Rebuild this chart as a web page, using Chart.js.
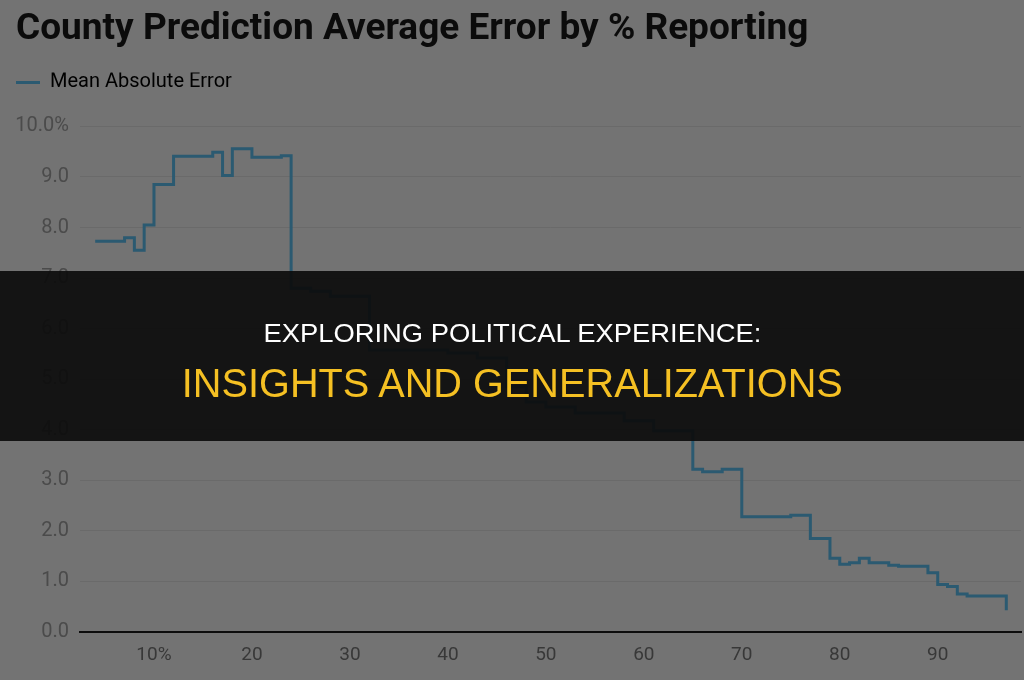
<!DOCTYPE html>
<html>
<head>
<meta charset="utf-8">
<script src="https://cdn.jsdelivr.net/npm/chart.js@4.4.1/dist/chart.umd.min.js"></script>
<style>
    html, body { margin: 0; padding: 0; background: #737373; }
    #wrap { position: relative; width: 1024px; height: 680px; overflow: hidden; }
    #band {
        position: absolute; left: 0; top: 271px; width: 1024px; height: 170px;
        background: rgba(12, 12, 12, 0.92);
        font-family: "Liberation Sans", Arial, sans-serif;
    }
    #band .line1, #band .line2 {
        position: absolute; left: 0; width: 1024px; text-align: center; white-space: nowrap;
    }
    #band span { display: inline-block; transform-origin: center; }
    #band .line1 { top: 48px; color: #ffffff; font-size: 25px; }
    #band .line2 { top: 89px; color: #f5c023; font-size: 41px; }
</style>
</head>
<body>
<div id="wrap">
    <canvas id="chart" width="1024" height="680"></canvas>
    <div id="band">
        <div class="line1"><span data-w="498">EXPLORING POLITICAL EXPERIENCE:</span></div>
        <div class="line2"><span data-w="661">INSIGHTS AND GENERALIZATIONS</span></div>
    </div>
</div>
<script>
// % reporting where each step starts, and the error held from there
const pctReporting = [4, 7, 8, 9, 10, 12, 16, 17, 18, 20, 23, 24, 26, 28, 32, 40, 43, 46, 48, 50,
    53, 58, 61, 65, 66, 68, 70, 75, 77, 79, 80, 81, 82, 83, 85, 86, 89, 90, 91, 92, 93, 97];
const meanAbsError = [7.73, 7.80, 7.55, 8.05, 8.85, 9.41, 9.49, 9.03, 9.56, 9.39, 9.42, 6.80, 6.74, 6.64,
    5.58, 5.52, 5.42, 4.85, 4.55, 4.45, 4.33, 4.18, 3.98, 3.22, 3.17, 3.22, 2.28, 2.31, 1.85, 1.46,
    1.34, 1.37, 1.46, 1.37, 1.32, 1.30, 1.17, 0.94, 0.90, 0.75, 0.71, 0.43];

const xTickValues = [10, 20, 30, 40, 50, 60, 70, 80, 90];
const xTickLabels = ['10%', '20', '30', '40', '50', '60', '70', '80', '90'];
const yTickValues = [0, 1, 2, 3, 4, 5, 6, 7, 8, 9, 10];
const yTickLabels = ['0.0', '1.0', '2.0', '3.0', '4.0', '5.0', '6.0', '7.0', '8.0', '9.0', '10.0%'];

// squeeze the banner text to the widths seen in the picture
document.querySelectorAll('#band span').forEach(el => {
    const w = el.getBoundingClientRect().width;
    el.style.transform = 'scaleX(' + (Number(el.dataset.w) / w) + ')';
});

// extra room between the legend and the plot
const legendGap = {
    id: 'legendGap',
    beforeInit(chart) {
        const fit = chart.legend.fit;
        chart.legend.fit = function () {
            fit.call(this);
            this.height += 24;
        };
    }
};

const ctx = document.getElementById('chart').getContext('2d');

new Chart(ctx, {
    type: 'line',
    data: {
        datasets: [{
            label: 'Mean Absolute Error',
            data: pctReporting.map((p, i) => ({ x: p, y: meanAbsError[i] })),
            stepped: true,
            borderColor: '#2b5a71',
            backgroundColor: '#2b5a71',
            borderWidth: 3,
            pointRadius: 0,
            fill: false
        }]
    },
    options: {
        responsive: false,
        animation: false,
        layout: {
            padding: { left: 16, right: 3, top: 4, bottom: 0 }
        },
        plugins: {
            title: {
                display: true,
                text: 'County Prediction Average Error by % Reporting',
                align: 'start',
                color: '#0b0b0b',
                font: { family: 'Roboto', size: 37, weight: 'bold' },
                padding: { top: 4, bottom: 20 }
            },
            legend: {
                align: 'start',
                labels: {
                    color: '#141414',
                    font: { family: 'Roboto', size: 20 },
                    boxWidth: 24,
                    boxHeight: 3,
                    padding: 0,
                    generateLabels: chart => [{
                        text: 'Mean Absolute Error',
                        fillStyle: '#2b5a71',
                        strokeStyle: '#2b5a71',
                        lineWidth: 0,
                        datasetIndex: 0
                    }]
                }
            },
            tooltip: { enabled: false }
        },
        scales: {
            x: {
                type: 'linear',
                min: 2.45,
                max: 98.5,
                afterBuildTicks: scale => {
                    scale.ticks = xTickValues.map(v => ({ value: v }));
                },
                afterFit: scale => { scale.height = 48; },
                grid: { display: false, drawTicks: false },
                border: { display: true, color: '#0d0d0d', width: 2 },
                ticks: {
                    color: '#383838',
                    font: { family: 'Roboto', size: 19 },
                    padding: 12,
                    maxRotation: 0,
                    callback: (v) => xTickLabels[xTickValues.indexOf(v)]
                }
            },
            y: {
                min: 0,
                max: 10,
                afterBuildTicks: scale => {
                    scale.ticks = yTickValues.map(v => ({ value: v }));
                },
                afterFit: scale => { scale.width = 64; },
                grid: { color: '#6a6a6a', lineWidth: 1, drawTicks: false },
                border: { display: false },
                ticks: {
                    color: '#4b4b4b',
                    font: { family: 'Roboto', size: 20 },
                    padding: 11,
                    callback: (v) => yTickLabels[yTickValues.indexOf(v)]
                }
            }
        }
    },
    plugins: [legendGap]
});
</script>
</body>
</html>
